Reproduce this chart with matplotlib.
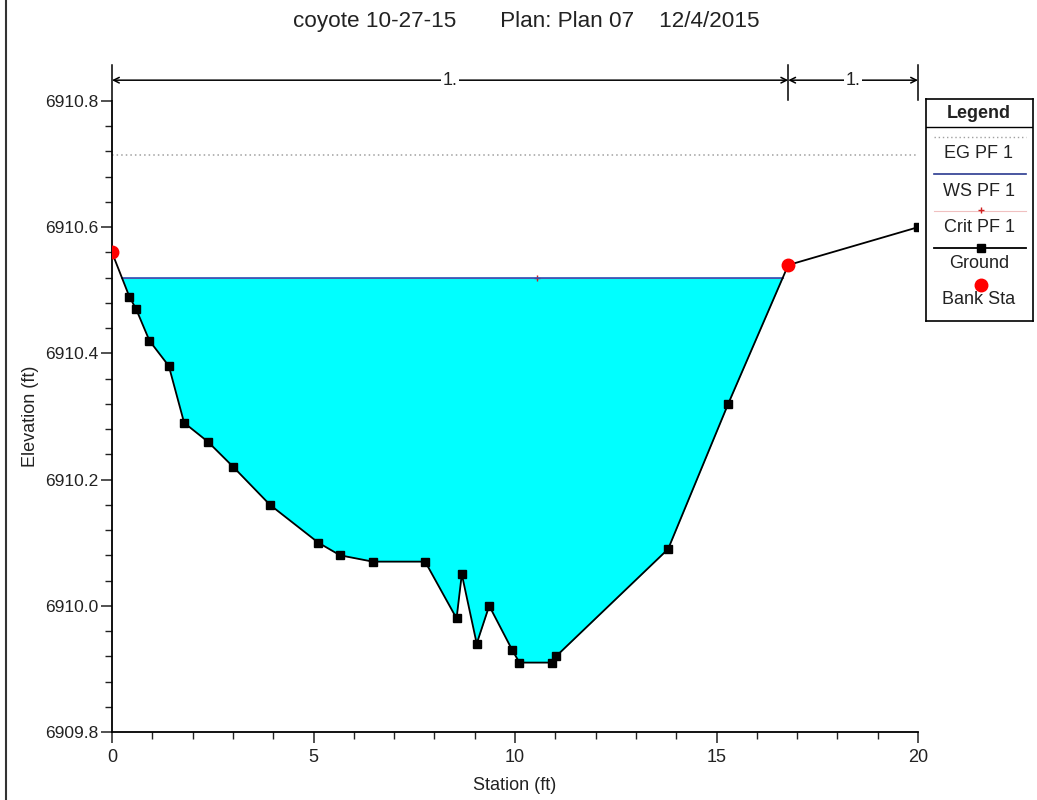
import matplotlib
matplotlib.use('Agg')
import matplotlib.pyplot as plt
from matplotlib.lines import Line2D
import numpy as np

plt.rcParams['font.family'] = ['Liberation Sans', 'DejaVu Sans']

# cross section ground points (station ft, elevation ft)
station = [0.0, 0.43, 0.60, 0.93, 1.41, 1.79, 2.38, 3.01, 3.92, 5.12, 5.66, 6.47,
           7.77, 8.55, 8.68, 9.05, 9.36, 9.93, 10.11, 10.92, 11.02, 13.80, 15.29,
           16.78, 20.0]
elevation = [6910.56, 6910.49, 6910.47, 6910.42, 6910.38, 6910.29, 6910.26, 6910.22,
             6910.16, 6910.10, 6910.08, 6910.07, 6910.07, 6909.98, 6910.05, 6909.94,
             6910.00, 6909.93, 6909.91, 6909.91, 6909.92, 6910.09, 6910.32, 6910.54,
             6910.60]

bank_sta = [0.0, 16.78]
bank_elev = [6910.56, 6910.54]

ws_elev = 6910.52      # WS PF 1
eg_elev = 6910.715     # EG PF 1
crit_sta = 10.55       # Crit PF 1 marker
crit_elev = 6910.52

n_regions = ["1.", "1."]
region_edges = [0.0, 16.78, 20.0]

title = "coyote 10-27-15       Plan: Plan 07    12/4/2015"


def water_edges(x, z, level):
    # stations where the ground crosses the water level
    x = np.asarray(x)
    z = np.asarray(z)
    hits = []
    for i in range(len(x) - 1):
        a, b = z[i] - level, z[i + 1] - level
        if a * b < 0:
            t = a / (a - b)
            hits.append(x[i] + t * (x[i + 1] - x[i]))
    return hits[0], hits[-1]


x = np.array(station)
z = np.array(elevation)
left, right = water_edges(station[:24], elevation[:24], ws_elev)

fig = plt.figure(figsize=(10.37, 8), dpi=100)
ax = fig.add_axes([112 / 1037, 1 - 732 / 800, 806 / 1037, 631 / 800])

in_channel = (x <= bank_sta[1]) & (z <= ws_elev)
ax.fill_between(x, z, ws_elev, where=in_channel, interpolate=True,
                color='#00ffff', linewidth=0, zorder=1)
ax.plot([0, 20], [eg_elev, eg_elev], linestyle=(0, (1, 2)), color='#a0a0a0',
        linewidth=1.1, zorder=2)
ax.plot([left, crit_sta, right], [crit_elev] * 3, color='#e07070', linewidth=0.8,
        marker='+', markersize=5, markevery=[1], markeredgecolor='#d02020', zorder=2)
ax.plot([left, right], [ws_elev, ws_elev], color='#2a50b8', linewidth=1.2, zorder=3)
ax.plot(x, z, color='black', linewidth=1.3, marker='s', markersize=5.5, zorder=4)
ax.plot(bank_sta, bank_elev, linestyle='none', marker='o', markersize=9,
        color='#ff0000', zorder=5)

ax.set_xlim(0, 20)
ax.set_ylim(6909.8, 6910.8)
ax.set_xticks([0, 5, 10, 15, 20])
ax.set_xticks(np.arange(0, 21, 1), minor=True)
ax.set_yticks([6909.8, 6910.0, 6910.2, 6910.4, 6910.6, 6910.8])
ax.set_yticks(np.arange(6909.8, 6910.81, 0.04), minor=True)
ax.yaxis.set_major_formatter(matplotlib.ticker.FormatStrFormatter('%.1f'))
ax.tick_params(which='major', length=8, width=1.1, labelsize=12.5, color='#222222',
               labelcolor='#222222')
ax.tick_params(which='minor', length=5, width=1.0, color='#222222')
ax.tick_params(axis='x', labelsize=13, pad=4)
ax.tick_params(axis='y', pad=2)
for s in ['top', 'right']:
    ax.spines[s].set_visible(False)
for s in ['left', 'bottom']:
    ax.spines[s].set_linewidth(1.3)
ax.patch.set_alpha(0)

ax.set_xlabel("Station (ft)", fontsize=13, color='#222222')
ax.set_ylabel("Elevation (ft)", fontsize=13, color='#222222')
ax.xaxis.label.set_va('center')
ax.yaxis.label.set_va('center')
ax.xaxis.set_label_coords(0.5, -0.084)
ax.yaxis.set_label_coords(-0.1017, 0.5)
fig.text(526 / 1037, 1 - 22 / 800, title, ha='center', va='center', fontsize=16.2,
         color='#222222')

# Manning's n region markers above the plot
trans = ax.get_xaxis_transform()
for xe in region_edges:
    ax.plot([xe, xe], [1.002, 1.057], transform=trans, color='black',
            linewidth=1.1, clip_on=False)
for lab, x0, x1 in zip(n_regions, region_edges[:-1], region_edges[1:]):
    ax.annotate('', xy=(x0, 1.033), xytext=(x1, 1.033), xycoords=trans,
                textcoords=trans,
                arrowprops=dict(arrowstyle='<->', color='black', lw=1.1,
                                shrinkA=0, shrinkB=0, mutation_scale=10))
    ax.text((x0 + x1) / 2, 1.033, lab, transform=trans, ha='center', va='center',
            fontsize=13, color='#222222',
            bbox=dict(facecolor='white', edgecolor='none', pad=1))

# legend box, drawn in pixel units from its top edge
lg = fig.add_axes([926 / 1037, 1 - 321 / 800, 107 / 1037, 222 / 800])
lg.set_xlim(0, 107)
lg.set_ylim(222, 0)
lg.set_xticks([])
lg.set_yticks([])
for s in lg.spines.values():
    s.set_linewidth(1.2)
lg.text(53, 14, "Legend", ha='center', va='center', fontsize=13, fontweight='bold',
        color='#222222')
lg.plot([0, 107], [28, 28], color='black', linewidth=1)
lg.plot([8, 100], [38, 38], linestyle=(0, (1, 2)), color='#a0a0a0', linewidth=1)
lg.text(53, 55, "EG PF 1", ha='center', va='center', fontsize=13, color='#222222')
lg.plot([8, 100], [75, 75], color='#2a3a90', linewidth=1.2)
lg.text(53, 93, "WS PF 1", ha='center', va='center', fontsize=13, color='#222222')
lg.plot([8, 100], [112, 112], color='#f0c0c0', linewidth=0.8)
lg.plot([55], [111], marker='+', markersize=5, color='#d02020')
lg.text(53, 128, "Crit PF 1", ha='center', va='center', fontsize=13, color='#222222')
lg.plot([8, 100], [149, 149], color='black', linewidth=1.3)
lg.plot([55], [149], marker='s', markersize=5.5, color='black')
lg.text(53, 165, "Ground", ha='center', va='center', fontsize=13, color='#222222')
lg.plot([55], [186], marker='o', markersize=9, color='#ff0000')
lg.text(53, 201, "Bank Sta", ha='center', va='center', fontsize=13, color='#222222')

# frame edge on the left of the window
fig.add_artist(Line2D([6 / 1037, 6 / 1037], [0, 1], color='#333333', linewidth=1.5))

fig.savefig("out.png", dpi=100)
